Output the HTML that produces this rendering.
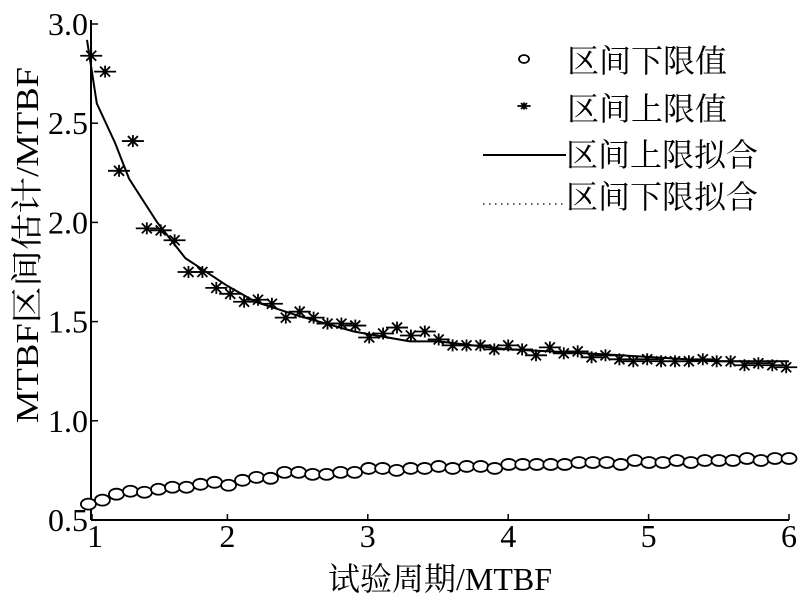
<!DOCTYPE html>
<html><head><meta charset="utf-8"><style>
html,body{margin:0;padding:0;background:#fff}
svg text{font-family:"Liberation Serif","Noto Serif CJK SC",serif;fill:#000}
</style></head><body>
<svg id="chart" width="800" height="600" viewBox="0 0 800 600"></svg>
<script>
const xTicks=[1,2,3,4,5,6];
const yTicks=[0.5,1.0,1.5,2.0,2.5,3.0];
const upperVals=[2.84,2.76,2.26,2.41,1.97,1.96,1.91,1.75,1.75,1.67,1.64,1.60,1.61,1.59,1.52,1.55,1.52,1.49,1.49,1.48,1.42,1.44,1.47,1.43,1.45,1.41,1.38,1.38,1.38,1.36,1.38,1.36,1.33,1.37,1.34,1.35,1.32,1.33,1.31,1.30,1.31,1.30,1.30,1.30,1.31,1.30,1.30,1.28,1.29,1.28,1.27];
const lowerVals=[0.58,0.60,0.63,0.645,0.64,0.655,0.665,0.665,0.68,0.69,0.675,0.70,0.715,0.71,0.74,0.74,0.73,0.73,0.74,0.74,0.76,0.76,0.75,0.76,0.76,0.77,0.76,0.77,0.77,0.76,0.78,0.78,0.78,0.78,0.78,0.79,0.79,0.79,0.78,0.80,0.79,0.79,0.80,0.79,0.80,0.80,0.80,0.81,0.80,0.81,0.81];
const fitX=[1.0,1.07,1.2,1.3,1.5,1.7,2.0,2.2,2.5,2.9,3.3,3.5,4.0,4.3,4.8,5.5,6.0];
const upperFit=[2.92,2.60,2.40,2.22,2.00,1.82,1.68,1.60,1.53,1.45,1.40,1.40,1.36,1.35,1.33,1.30,1.30];
const lowerFit=[0.58,0.60,0.63,0.65,0.66,0.68,0.69,0.71,0.72,0.74,0.75,0.76,0.77,0.78,0.79,0.80,0.81];
const NS='http://www.w3.org/2000/svg';
const svg=document.getElementById('chart');
const X=v=>87+(v-1)*140.4;
const Y=v=>520-(v-0.5)*198.4;
const L=91,R=789,T=24,B=520;
function mk(t,a,p){const e=document.createElementNS(NS,t);for(const k in a)e.setAttribute(k,a[k]);(p||svg).appendChild(e);return e;}
let e;
e=mk('line',{x1:L,y1:T-4,x2:L,y2:B,stroke:'#000','stroke-width':2});


e=mk('line',{x1:L,y1:B,x2:R,y2:B,stroke:'#000','stroke-width':2});


xTicks.forEach(v=>{
 const px=Math.max(X(v),L+1);
 e=mk('line',{x1:px,y1:B,x2:px,y2:B-6,stroke:'#000','stroke-width':1.5});
 
 
 e=mk('text',{x:X(v)+(v==1?8:0),y:B+27,'text-anchor':'middle','font-size':32});
 e.textContent=v;
 
 
});
yTicks.forEach(v=>{
 e=mk('line',{x1:L,y1:Y(v),x2:L+7,y2:Y(v),stroke:'#000','stroke-width':1.5});
 
 
 e=mk('text',{x:L-3,y:Y(v)+11,'text-anchor':'end','font-size':32});
 e.textContent=v.toFixed(1);
 
 
});
function pts(xs,ys){return xs.map((x,i)=>X(x).toFixed(1)+','+Y(ys[i]).toFixed(1)).join(' ');}
e=mk('polyline',{points:pts(fitX,upperFit),fill:'none',stroke:'#000','stroke-width':2});


e=mk('polyline',{points:pts(fitX,lowerFit),fill:'none',stroke:'#000','stroke-width':1,'stroke-dasharray':'1,3'});


function star(cx,cy,name,s){
 s=s||1;
 const g=mk('g',{stroke:'#000','stroke-width':1.8});
 
 
 mk('line',{x1:cx-11*s,y1:cy,x2:cx+11*s,y2:cy},g);
 mk('line',{x1:cx,y1:cy-6*s,x2:cx,y2:cy+6*s},g);
 mk('line',{x1:cx-5*s,y1:cy-5*s,x2:cx+5*s,y2:cy+5*s},g);
 mk('line',{x1:cx-5*s,y1:cy+5*s,x2:cx+5*s,y2:cy-5*s},g);
}
const n=upperVals.length;
upperVals.forEach((v,i)=>{const xv=1.03+i*4.95/(n-1);star(X(xv),Y(v),'upper-point');});
lowerVals.forEach((v,i)=>{const xv=1.01+i*4.99/(lowerVals.length-1);
 e=mk('ellipse',{cx:X(xv),cy:Y(v),rx:7.5,ry:5.5,fill:'#fff',stroke:'#000','stroke-width':1.8});
 
 
});
// legend
e=mk('ellipse',{cx:524,cy:59,rx:5,ry:4,fill:'#fff',stroke:'#000','stroke-width':1.8});


star(524,106,'legend-upper-marker',0.6);
e=mk('line',{x1:483,y1:155,x2:566,y2:155,stroke:'#000','stroke-width':2});


e=mk('line',{x1:483,y1:204,x2:564,y2:204,stroke:'#000','stroke-width':1.2,'stroke-dasharray':'1.5,4.5'});


[['区间下限值',72,567],['区间上限值',120,567],['区间上限拟合',166,566],['区间下限拟合',208,566]].forEach(([t,y,x])=>{
 e=mk('text',{x:x,y:y,'font-size':32});
 e.textContent=t;
 
 
});
e=mk('text',{x:440,y:590,'text-anchor':'middle','font-size':32});
e.textContent='试验周期/MTBF';


e=mk('text',{x:0,y:0,'text-anchor':'middle','font-size':32,textLength:356,lengthAdjust:'spacingAndGlyphs',transform:'translate(38,245) rotate(-90)'});
e.textContent='MTBF区间估计/MTBF';


</script>
</body></html>
